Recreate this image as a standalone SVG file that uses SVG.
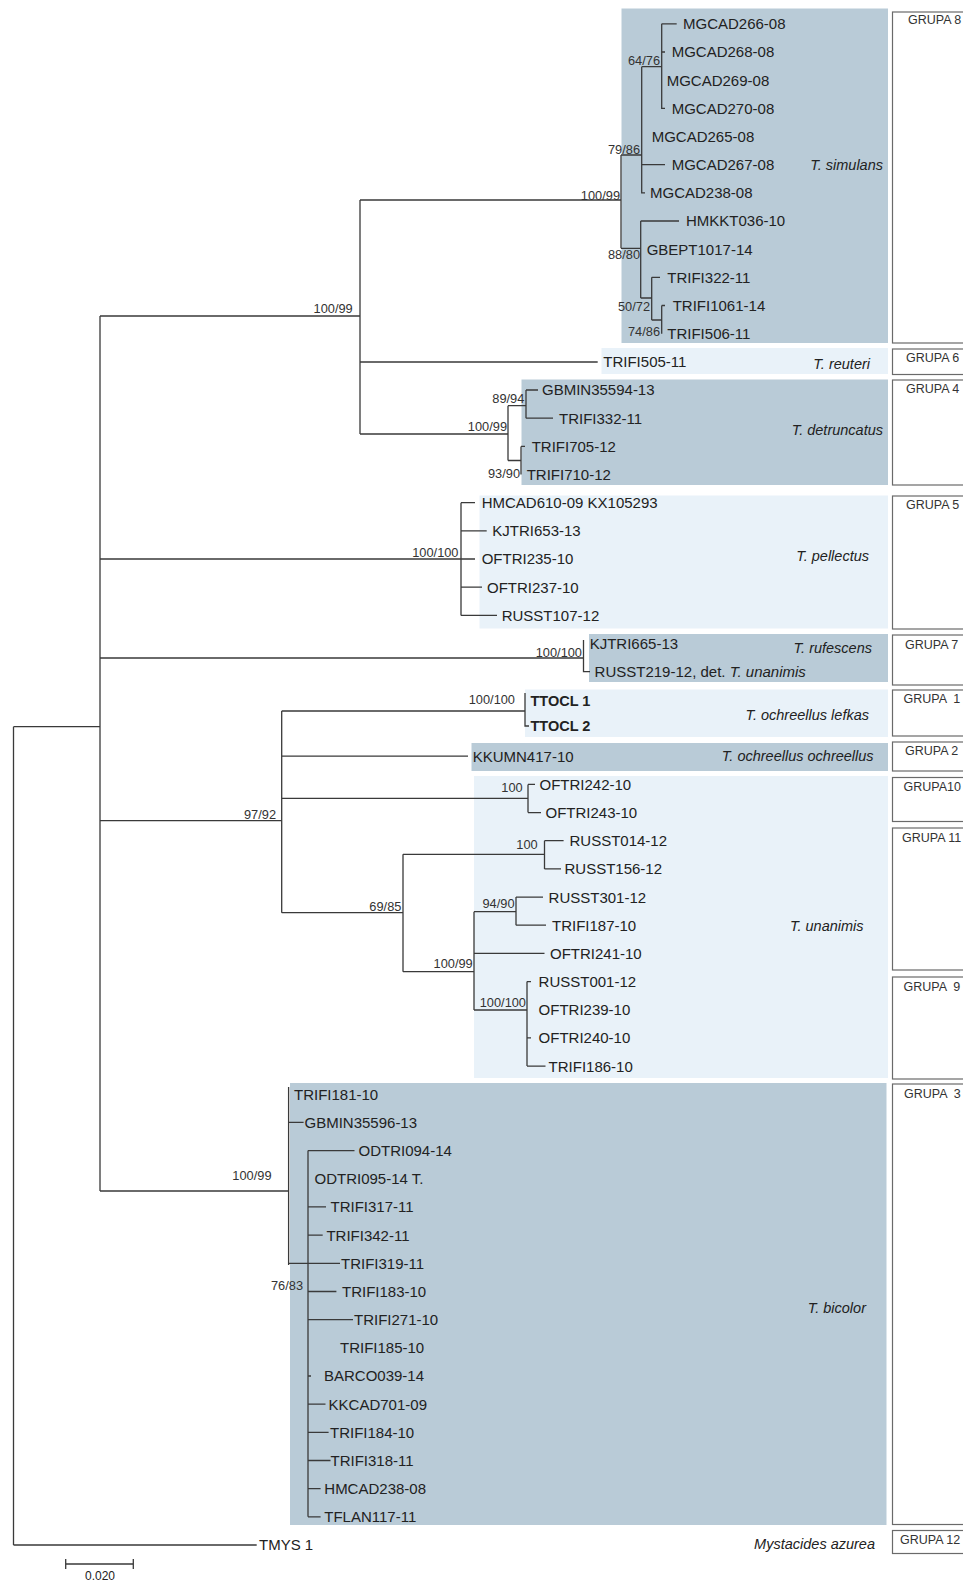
<svg xmlns="http://www.w3.org/2000/svg" width="963" height="1582" viewBox="0 0 963 1582">
<style>
.ln{fill:none;stroke:#3a3a3a;stroke-width:1.3}
text{font-family:"Liberation Sans",Arial,sans-serif;fill:#222}
.lf{font-size:15px}
.b{font-weight:bold;font-size:14.5px}
.bs{font-size:12.8px;text-anchor:end;fill:#333}
.sp{font-size:14.5px;font-style:italic;text-anchor:end}
.gr{font-size:12.5px;fill:#333}
.dk{fill:#b9cbd7}
.lt{fill:#e9f2f9}
.box{fill:#fff;stroke:#6a6a6a;stroke-width:1.2}
</style>
<rect width="963" height="1582" fill="#fff"/>

<g id="shades">
<rect class="dk" x="621.5" y="8.5" width="266.5" height="334.5"/>
<rect class="lt" x="601.5" y="348" width="286.5" height="26"/>
<rect class="dk" x="521.5" y="379.5" width="366.5" height="105.5"/>
<rect class="lt" x="479.5" y="495.5" width="408.5" height="133"/>
<rect class="dk" x="589" y="634" width="299" height="48"/>
<rect class="lt" x="525" y="689.5" width="363" height="47.5"/>
<rect class="dk" x="471.5" y="743" width="416.5" height="28"/>
<rect class="lt" x="474" y="776" width="414" height="302"/>
<rect class="dk" x="290" y="1083" width="596.5" height="442"/>
</g>

<g id="groups">
<g id="grupa8"><rect class="box" x="892.5" y="12" width="80" height="331"/><text class="gr" x="908" y="24">GRUPA 8</text></g>
<g id="grupa6"><rect class="box" x="892.5" y="349" width="80" height="25.5"/><text class="gr" x="906" y="362">GRUPA 6</text></g>
<g id="grupa4"><rect class="box" x="892.5" y="380" width="80" height="105"/><text class="gr" x="906" y="393">GRUPA 4</text></g>
<g id="grupa5"><rect class="box" x="892.5" y="496" width="80" height="133"/><text class="gr" x="906" y="509">GRUPA 5</text></g>
<g id="grupa7"><rect class="box" x="892.5" y="635" width="80" height="50"/><text class="gr" x="905" y="648.5">GRUPA 7</text></g>
<g id="grupa1"><rect class="box" x="892.5" y="690" width="80" height="46"/><text class="gr" x="903.5" y="702.5" xml:space="preserve">GRUPA  1</text></g>
<g id="grupa2"><rect class="box" x="892.5" y="742" width="80" height="29"/><text class="gr" x="905" y="754.5">GRUPA 2</text></g>
<g id="grupa10"><rect class="box" x="892.5" y="777.5" width="80" height="44"/><text class="gr" x="903.5" y="790.5">GRUPA10</text></g>
<g id="grupa11"><rect class="box" x="892.5" y="828" width="80" height="142"/><text class="gr" x="902" y="841.5">GRUPA 11</text></g>
<g id="grupa9"><rect class="box" x="892.5" y="977" width="80" height="102"/><text class="gr" x="903.5" y="990.5" xml:space="preserve">GRUPA  9</text></g>
<g id="grupa3"><rect class="box" x="892.5" y="1084" width="80" height="440.5"/><text class="gr" x="904" y="1097.5" xml:space="preserve">GRUPA  3</text></g>
<g id="grupa12"><rect class="box" x="892.5" y="1530.5" width="80" height="23"/><text class="gr" x="900" y="1544">GRUPA 12</text></g>
</g>

<g id="connectors" class="ln">
<path d="M13.5,726.7V1545M13.5,726.7H100M13.5,1545H256.7M100,316V1191M100,316H360M360,200V434M360,200H621M360,362H597.7M360,434H508"/>
<path d="M621,155V248.3M621,155H641.7M641.7,66.7V192.8H645M641.7,66.7H661.7M661.7,23.8V108.3H665M661.7,23.8H676.7M661.7,52H665M641.7,164.7H665M621,248.3H640.7M640.7,221V298M640.7,221H679M640.7,298H651.7M651.7,277.3V320M651.7,277.3H660M651.7,320H661.7M661.7,305.5V333.7M661.7,305.5H665"/>
<path d="M508,405.7V460.5M508,405.7H526M526,390V418.2M526,390H538M526,418.2H553M508,460.5H521M521,446.4V474.5M521,446.4H525"/>
<path d="M100,559H461M461,502.7V615.4M461,502.7H475M461,530.9H486.7M461,559H475M461,587.2H482M461,615.4H497"/>
<path d="M100,658H583.5M583.5,640V671.7H590"/>
<path d="M100,820.7H281.7M281.7,711V912.7M281.7,711H525M525,693V726H529M281.7,756.2H468M281.7,798.3H528M528,784.4V812.6M528,784.4H535M528,812.6H541"/>
<path d="M281.7,912.7H403M403,854.3V971.7M403,854.3H544.5M544.5,840.7V868.9M544.5,840.7H563.6M544.5,868.9H561M403,971.7H474M474,911.7V1010M474,911.7H516M516,897.1V925.2M516,897.1H543M516,925.2H546M474,953.4H544.5M474,1010H527M527,981.6V1066.1M527,981.6H531M527,1037.9H531M527,1066.1H545.5"/>
<path d="M100,1191H288.6M288.6,1087V1265M288.6,1122.4H303.6M288.6,1263.3H340M308,1150.6V1516.8M308,1150.6H354.5M308,1206.9H326M308,1235.1H322.7M308,1291.5H336.4M308,1319.6H353M308,1376H311M308,1404.1H325.5M308,1432.3H328.6M308,1460.5H330.5M308,1488.6H320.6M308,1516.8H320.6"/>
<path d="M65.7,1564H133.3M65.7,1559V1569M133.3,1559V1569"/>
</g>

<g id="support">
<text class="bs" x="660" y="64.5">64/76</text>
<text class="bs" x="640" y="153.5">79/86</text>
<text class="bs" x="620" y="199.5">100/99</text>
<text class="bs" x="640" y="258.5">88/80</text>
<text class="bs" x="650" y="311">50/72</text>
<text class="bs" x="660" y="336">74/86</text>
<text class="bs" x="352.7" y="312.8">100/99</text>
<text class="bs" x="524.3" y="402.8">89/94</text>
<text class="bs" x="507" y="431">100/99</text>
<text class="bs" x="520" y="477.8">93/90</text>
<text class="bs" x="458.5" y="556.5">100/100</text>
<text class="bs" x="582" y="656.5">100/100</text>
<text class="bs" x="515" y="703.8">100/100</text>
<text class="bs" x="276" y="818.8">97/92</text>
<text class="bs" x="522.7" y="791.5">100</text>
<text class="bs" x="537.7" y="848.5">100</text>
<text class="bs" x="401.4" y="911.2">69/85</text>
<text class="bs" x="514.5" y="907.8">94/90</text>
<text class="bs" x="472.7" y="967.8">100/99</text>
<text class="bs" x="526" y="1007.2">100/100</text>
<text class="bs" x="271.5" y="1179.5">100/99</text>
<text class="bs" x="303" y="1289.5">76/83</text>
<text x="100" y="1580" font-size="12" text-anchor="middle" fill="#333">0.020</text>
</g>

<g id="simulans">
<text class="lf" x="683" y="29.2">MGCAD266-08</text>
<text class="lf" x="671.7" y="57.4">MGCAD268-08</text>
<text class="lf" x="666.7" y="85.5">MGCAD269-08</text>
<text class="lf" x="671.7" y="113.7">MGCAD270-08</text>
<text class="lf" x="651.7" y="141.9">MGCAD265-08</text>
<text class="lf" x="671.7" y="170.1">MGCAD267-08</text>
<text class="lf" x="650" y="198.2">MGCAD238-08</text>
<text class="lf" x="686" y="226.4">HMKKT036-10</text>
<text class="lf" x="646.7" y="254.6">GBEPT1017-14</text>
<text class="lf" x="667.3" y="282.7">TRIFI322-11</text>
<text class="lf" x="672.7" y="310.9">TRIFI1061-14</text>
<text class="lf" x="667.3" y="339.1">TRIFI506-11</text>
<text class="sp" x="883" y="170">T. simulans</text>
</g>
<g id="reuteri">
<text class="lf" x="603.3" y="367.2">TRIFI505-11</text>
<text class="sp" x="870" y="368.5">T. reuteri</text>
</g>
<g id="detruncatus">
<text class="lf" x="542" y="395.4">GBMIN35594-13</text>
<text class="lf" x="559" y="423.6">TRIFI332-11</text>
<text class="lf" x="531.7" y="451.8">TRIFI705-12</text>
<text class="lf" x="526.7" y="479.9">TRIFI710-12</text>
<text class="sp" x="883" y="435">T. detruncatus</text>
</g>
<g id="pellectus">
<text class="lf" x="481.7" y="508.1">HMCAD610-09 KX105293</text>
<text class="lf" x="492.3" y="536.3">KJTRI653-13</text>
<text class="lf" x="481.7" y="564.4">OFTRI235-10</text>
<text class="lf" x="487" y="592.6">OFTRI237-10</text>
<text class="lf" x="501.7" y="620.8">RUSST107-12</text>
<text class="sp" x="869" y="561">T. pellectus</text>
</g>
<g id="rufescens">
<text class="lf" x="589.7" y="648.9">KJTRI665-13</text>
<text class="lf" x="594.6" y="677.1">RUSST219-12, det. <tspan font-style="italic">T. unanimis</tspan></text>
<text class="sp" x="872" y="653">T. rufescens</text>
</g>
<g id="lefkas">
<text class="lf b" x="530.5" y="706">TTOCL 1</text>
<text class="lf b" x="530.5" y="731">TTOCL 2</text>
<text class="sp" x="869" y="720">T. ochreellus lefkas</text>
</g>
<g id="ochreellus">
<text class="lf" x="472.7" y="761.6">KKUMN417-10</text>
<text class="sp" x="873.6" y="761">T. ochreellus ochreellus</text>
</g>
<g id="unanimis">
<text class="lf" x="539.5" y="789.8">OFTRI242-10</text>
<text class="lf" x="545.5" y="818">OFTRI243-10</text>
<text class="lf" x="569.5" y="846.1">RUSST014-12</text>
<text class="lf" x="564.5" y="874.3">RUSST156-12</text>
<text class="lf" x="548.6" y="902.5">RUSST301-12</text>
<text class="lf" x="552" y="930.6">TRIFI187-10</text>
<text class="lf" x="550" y="958.8">OFTRI241-10</text>
<text class="lf" x="538.6" y="987">RUSST001-12</text>
<text class="lf" x="538.6" y="1015.1">OFTRI239-10</text>
<text class="lf" x="538.6" y="1043.3">OFTRI240-10</text>
<text class="lf" x="548.6" y="1071.5">TRIFI186-10</text>
<text class="sp" x="863.6" y="931">T. unanimis</text>
</g>
<g id="bicolor">
<text class="lf" x="294" y="1099.7">TRIFI181-10</text>
<text class="lf" x="304.5" y="1127.8">GBMIN35596-13</text>
<text class="lf" x="358.5" y="1156">ODTRI094-14</text>
<text class="lf" x="314.5" y="1184.2">ODTRI095-14 T.</text>
<text class="lf" x="330.5" y="1212.3">TRIFI317-11</text>
<text class="lf" x="326.4" y="1240.5">TRIFI342-11</text>
<text class="lf" x="341" y="1268.7">TRIFI319-11</text>
<text class="lf" x="342" y="1296.9">TRIFI183-10</text>
<text class="lf" x="354" y="1325">TRIFI271-10</text>
<text class="lf" x="340" y="1353.2">TRIFI185-10</text>
<text class="lf" x="324" y="1381.4">BARCO039-14</text>
<text class="lf" x="328.6" y="1409.5">KKCAD701-09</text>
<text class="lf" x="330" y="1437.7">TRIFI184-10</text>
<text class="lf" x="330.5" y="1465.9">TRIFI318-11</text>
<text class="lf" x="324.3" y="1494">HMCAD238-08</text>
<text class="lf" x="324.3" y="1522.2">TFLAN117-11</text>
<text class="sp" x="866" y="1313">T. bicolor</text>
</g>
<g id="outgroup">
<text class="lf" x="259" y="1550.4">TMYS 1</text>
<text class="sp" x="875" y="1549" font-size="15">Mystacides azurea</text>
</g>
</svg>
